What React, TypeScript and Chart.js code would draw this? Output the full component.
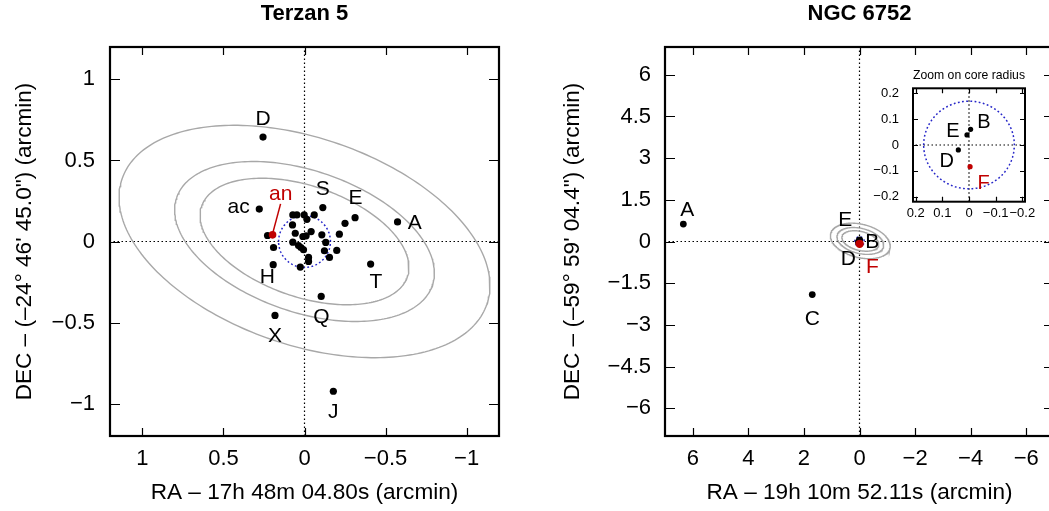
import React, { useEffect, useRef } from "react";
import { Chart, registerables } from "chart.js";

Chart.register(...registerables);

const FONT = "'Liberation Sans', Arial, Helvetica, sans-serif";
const RED = "#c00000";
const BLUE = "#2626c8";
const GREY = "#a8a8a8";

// ---------------- Terzan 5 ----------------
const TER5_TITLE = "Terzan 5";
const TER5_X_TITLE = "RA – 17h 48m 04.80s (arcmin)";
const TER5_Y_TITLE = "DEC – (–24° 46' 45.0\") (arcmin)";
const TER5_LIMIT = 1.2;
const TER5_TICKS = [-1, -0.5, 0, 0.5, 1];
const TER5_NAMES = ["D", "ac", "an", "S", "E", "A", "T", "H", "Q", "X", "J"];
const TER5_RA = [0.256, 0.279, 0.197, -0.113, -0.312, -0.574, -0.408, 0.193, -0.103, 0.182, -0.178];
const TER5_DEC = [0.644, 0.2, 0.041, 0.209, 0.147, 0.121, -0.139, -0.143, -0.339, -0.456, -0.924];
const TER5_HIGHLIGHT = ["an"];
const TER5_OTHER_RA = [0.228, 0.191, 0.072, 0.047, 0.002, -0.015, -0.06, 0.074, 0.057, 0.01, -0.01, -0.041, -0.107, -0.215, -0.25, 0.072, 0.037, 0.022, 0.006, -0.131, -0.123, -0.199, -0.025, -0.025, -0.154, 0.026];
const TER5_OTHER_DEC = [0.037, -0.037, 0.164, 0.164, 0.164, 0.137, 0.164, 0.102, 0.051, 0.031, 0.035, 0.061, 0.041, 0.045, 0.112, -0.004, -0.025, -0.037, -0.051, -0.006, -0.057, -0.055, -0.098, -0.123, -0.098, -0.158];
const TER5_CORE_RADIUS = 0.16;
const TER5_CONTOUR_A = [1.19, 0.834, 0.671];
const TER5_CONTOUR_B = [0.638, 0.436, 0.342];
const TER5_CONTOUR_PA = 19;
const TER5_CONTOUR_CENTER = [0, 0];
// label offsets (pixels, relative to the marker)
const TER5_LABEL_DX = [0, -20.7, 8.2, 0, 0.5, 17.3, 5.3, -6, 0.3, 0, 0];
const TER5_LABEL_DY = [-12.3, 4.4, -35, -12.7, -13.3, 7.4, 24, 18.4, 26.4, 26.4, 27];

// ---------------- NGC 6752 ----------------
const NGC_TITLE = "NGC 6752";
const NGC_X_TITLE = "RA – 19h 10m 52.11s (arcmin)";
const NGC_Y_TITLE = "DEC – (–59° 59' 04.4\") (arcmin)";
const NGC_LIMIT = 7;
const NGC_X_TICKS = [-6, -4, -2, 0, 2, 4, 6];
const NGC_Y_TICKS = [-6, -4.5, -3, -1.5, 0, 1.5, 3, 4.5, 6];
const NGC_NAMES = ["A", "B", "C", "D", "E", "F"];
const NGC_RA = [6.34, -0.006, 1.7, 0.04, 0.0075, -0.004];
const NGC_DEC = [0.626, 0.061, -1.91, -0.019, 0.039, -0.084];
const NGC_HIGHLIGHT = ["F"];
const NGC_CORE_RADIUS = 0.17;
const NGC_CONTOUR_A = [1.1, 0.86, 0.68];
const NGC_CONTOUR_B = [0.6, 0.45, 0.34];
const NGC_CONTOUR_PA = 14;
const NGC_CONTOUR_CENTER = [-0.03, 0.02];
const NGC_LABEL_DX = [4, 12.5, 0, -10, -14, 12.7];
const NGC_LABEL_DY = [-8.3, 7.8, 30.3, 22.8, -14.6, 29.3];

// ---------------- NGC 6752 inset ----------------
const INSET_TITLE = "Zoom on core radius";
const INSET_X_LIMIT = 0.21;
const INSET_Y_LIMIT = 0.22;
const INSET_TICKS = [-0.2, -0.1, 0, 0.1, 0.2];
const INSET_LABEL_DX = [0, 13.3, 0, -11.6, -14, 13.5];
const INSET_LABEL_DY = [0, -1, 0, 16.7, 1.7, 22];

function ellipse(cx: number, cy: number, a: number, b: number, paDeg: number) {
  const p = (paDeg * Math.PI) / 180;
  const pts: { x: number; y: number }[] = [];
  const n = 240;
  for (let i = 0; i <= n; i++) {
    const t = (2 * Math.PI * i) / n;
    pts.push({
      x: cx + a * Math.cos(t) * Math.cos(p) - b * Math.sin(t) * Math.sin(p),
      y: cy + a * Math.cos(t) * Math.sin(p) + b * Math.sin(t) * Math.cos(p),
    });
  }
  return pts;
}

function fmt(v: number) {
  if (Math.abs(v) < 1e-9) return "0";
  return v < 0 ? "\u2212" + String(Math.abs(v)) : String(v);
}

type Panel = {
  title: string;
  titleSize: number;
  titleBold: boolean;
  titlePad: [number, number];
  xTitle?: string;
  yTitle?: string;
  axisFont: number;
  tickFont: number;
  limX: number;
  limY: number;
  xTicks: number[];
  yTicks: number[];
  yAxisWidth: number;
  xAxisHeight: number;
  padRight: number;
  yTickPad: number;
  xTickPad: number;
  yTitlePad: number;
  xTitlePad: number;
  names: string[];
  ra: number[];
  dec: number[];
  highlight: string[];
  otherRa: number[];
  otherDec: number[];
  coreR: number;
  contA: number[];
  contB: number[];
  contPA: number;
  contC: number[];
  dx: number[];
  dy: number[];
  labelFont: number;
  pointR: number;
  hiR: number;
  tickLenX: number;
  tickLenY: number;
  frameW: number;
  leaders?: { name: string; x1: number; y1: number; x2: number; y2: number }[];
};

function decorPlugin(c: Panel, id: string) {
  return {
    id,
    afterDraw(chart: any) {
      const { ctx, chartArea, scales } = chart;
      const { left, right, top, bottom } = chartArea;
      const sx = scales.x;
      const sy = scales.y;
      ctx.save();
      // point labels
      ctx.font = `${c.labelFont}px ${FONT}`;
      ctx.textAlign = "center";
      ctx.textBaseline = "alphabetic";
      c.names.forEach((n, i) => {
        if (Math.abs(c.ra[i]) > c.limX || Math.abs(c.dec[i]) > c.limY) return;
        const px = sx.getPixelForValue(c.ra[i]);
        const py = sy.getPixelForValue(c.dec[i]);
        ctx.fillStyle = c.highlight.includes(n) ? RED : "#000";
        ctx.fillText(n, px + c.dx[i], py + c.dy[i]);
      });
      // leader lines
      (c.leaders || []).forEach((l) => {
        const i = c.names.indexOf(l.name);
        const px = sx.getPixelForValue(c.ra[i]);
        const py = sy.getPixelForValue(c.dec[i]);
        ctx.strokeStyle = RED;
        ctx.lineWidth = 1.5;
        ctx.beginPath();
        ctx.moveTo(px + l.x1, py + l.y1);
        ctx.lineTo(px + l.x2, py + l.y2);
        ctx.stroke();
      });
      // inward mirrored ticks
      ctx.strokeStyle = "#000";
      ctx.lineWidth = 1.2;
      ctx.beginPath();
      sx.ticks.forEach((t: any) => {
        const px = Math.round(sx.getPixelForValue(t.value)) + 0.5;
        ctx.moveTo(px, bottom);
        ctx.lineTo(px, bottom - c.tickLenX);
        ctx.moveTo(px, top);
        ctx.lineTo(px, top + c.tickLenX);
      });
      sy.ticks.forEach((t: any) => {
        const py = Math.round(sy.getPixelForValue(t.value)) + 0.5;
        ctx.moveTo(left, py);
        ctx.lineTo(left + c.tickLenY, py);
        ctx.moveTo(right, py);
        ctx.lineTo(right - c.tickLenY, py);
      });
      ctx.stroke();
      // frame
      ctx.lineWidth = c.frameW;
      ctx.strokeRect(left, top, right - left, bottom - top);
      ctx.restore();
    },
  };
}

function buildConfig(c: Panel, id: string): any {
  const named = c.names.map((n, i) => ({ x: c.ra[i], y: c.dec[i], hi: c.highlight.includes(n) }));
  const hiPts = named.filter((p) => p.hi).map((p) => ({ x: p.x, y: p.y }));
  const blackPts = [
    ...named.filter((p) => !p.hi).map((p) => ({ x: p.x, y: p.y })),
    ...c.otherRa.map((x, i) => ({ x, y: c.otherDec[i] })),
  ];
  const line = { showLine: true, pointRadius: 0, pointHoverRadius: 0, fill: false, tension: 0 };
  const datasets: any[] = [
    { label: "highlight", data: hiPts, showLine: false, pointRadius: c.hiR, pointBackgroundColor: RED, pointBorderWidth: 0 },
    { label: "pulsars", data: blackPts, showLine: false, pointRadius: c.pointR, pointBackgroundColor: "#000", pointBorderWidth: 0 },
    { label: "core", data: ellipse(0, 0, c.coreR, c.coreR, 0), borderColor: BLUE, borderWidth: 1.5, borderDash: [1.8, 2.4], ...line },
    ...c.contA.map((a, i) => ({
      label: "contour" + i,
      data: ellipse(c.contC[0], c.contC[1], a, c.contB[i], c.contPA),
      borderColor: GREY,
      borderWidth: 1.4,
      ...line,
    })),
    { label: "ra0", data: [{ x: 0, y: -c.limY }, { x: 0, y: c.limY }], borderColor: "#000", borderWidth: 1.2, borderDash: [1.5, 2.5], ...line },
    { label: "dec0", data: [{ x: -c.limX, y: 0 }, { x: c.limX, y: 0 }], borderColor: "#000", borderWidth: 1.2, borderDash: [1.5, 2.5], ...line },
  ];
  const tickFont = { family: FONT, size: c.tickFont };
  const axisFont = { family: FONT, size: c.axisFont };
  return {
    type: "scatter",
    data: { datasets },
    options: {
      responsive: false,
      animation: false,
      devicePixelRatio: 1,
      events: [],
      layout: { padding: { left: 0, top: 0, right: c.padRight, bottom: 0 } },
      plugins: {
        legend: { display: false },
        tooltip: { enabled: false },
        title: {
          display: true,
          text: c.title,
          fullSize: false,
          color: "#000",
          font: { family: FONT, size: c.titleSize, weight: c.titleBold ? "bold" : "normal" },
          padding: { top: c.titlePad[0], bottom: c.titlePad[1] },
        },
      },
      scales: {
        x: {
          type: "linear",
          min: -c.limX,
          max: c.limX,
          reverse: true,
          afterBuildTicks: (s: any) => {
            s.ticks = c.xTicks.map((v) => ({ value: v }));
          },
          afterFit: (s: any) => {
            s.height = c.xAxisHeight;
          },
          grid: { display: false, drawTicks: false, tickLength: 0 },
          border: { display: false },
          ticks: { autoSkip: false, maxRotation: 0, minRotation: 0, padding: c.xTickPad, color: "#000", font: tickFont, callback: (v: number) => fmt(v) },
          title: { display: !!c.xTitle, text: c.xTitle || "", color: "#000", font: axisFont, padding: { top: 0, bottom: c.xTitlePad } },
        },
        y: {
          type: "linear",
          min: -c.limY,
          max: c.limY,
          afterBuildTicks: (s: any) => {
            s.ticks = c.yTicks.map((v) => ({ value: v }));
          },
          afterFit: (s: any) => {
            s.width = c.yAxisWidth;
          },
          grid: { display: false, drawTicks: false, tickLength: 0 },
          border: { display: false },
          ticks: { autoSkip: false, padding: c.yTickPad, color: "#000", font: tickFont, callback: (v: number) => fmt(v) },
          title: { display: !!c.yTitle, text: c.yTitle || "", color: "#000", font: axisFont, padding: { top: c.yTitlePad, bottom: 0 } },
        },
      },
    },
    plugins: [decorPlugin(c, id)],
  };
}

const terzan: Panel = {
  title: TER5_TITLE, titleSize: 22, titleBold: true, titlePad: [0.8, 19.8],
  xTitle: TER5_X_TITLE, yTitle: TER5_Y_TITLE, axisFont: 22.6, tickFont: 22,
  limX: TER5_LIMIT, limY: TER5_LIMIT, xTicks: TER5_TICKS, yTicks: TER5_TICKS,
  yAxisWidth: 110, xAxisHeight: 75, padRight: 41,
  yTickPad: 15, xTickPad: 9.8, yTitlePad: 11.5, xTitlePad: 4.6,
  names: TER5_NAMES, ra: TER5_RA, dec: TER5_DEC, highlight: TER5_HIGHLIGHT,
  otherRa: TER5_OTHER_RA, otherDec: TER5_OTHER_DEC, coreR: TER5_CORE_RADIUS,
  contA: TER5_CONTOUR_A, contB: TER5_CONTOUR_B, contPA: TER5_CONTOUR_PA, contC: TER5_CONTOUR_CENTER,
  dx: TER5_LABEL_DX, dy: TER5_LABEL_DY, labelFont: 21, pointR: 3.6, hiR: 3.8,
  tickLenX: 8, tickLenY: 10, frameW: 2.2,
  leaders: [{ name: "an", x1: 8, y1: -31, x2: 0.5, y2: -3 }],
};

const ngc: Panel = {
  title: NGC_TITLE, titleSize: 22, titleBold: true, titlePad: [0.8, 19.8],
  xTitle: NGC_X_TITLE, yTitle: NGC_Y_TITLE, axisFont: 22.6, tickFont: 22,
  limX: NGC_LIMIT, limY: NGC_LIMIT, xTicks: NGC_X_TICKS, yTicks: NGC_Y_TICKS,
  yAxisWidth: 125, xAxisHeight: 75, padRight: 26,
  yTickPad: 14, xTickPad: 9.8, yTitlePad: 19, xTitlePad: 4.6,
  names: NGC_NAMES, ra: NGC_RA, dec: NGC_DEC, highlight: NGC_HIGHLIGHT,
  otherRa: [], otherDec: [], coreR: NGC_CORE_RADIUS,
  contA: NGC_CONTOUR_A, contB: NGC_CONTOUR_B, contPA: NGC_CONTOUR_PA, contC: NGC_CONTOUR_CENTER,
  dx: NGC_LABEL_DX, dy: NGC_LABEL_DY, labelFont: 21, pointR: 3.4, hiR: 4.2,
  tickLenX: 8, tickLenY: 10, frameW: 2.2,
};

const inset: Panel = {
  title: INSET_TITLE, titleSize: 13, titleBold: false, titlePad: [12.2, 5.5],
  axisFont: 13, tickFont: 13,
  limX: INSET_X_LIMIT, limY: INSET_Y_LIMIT, xTicks: INSET_TICKS, yTicks: INSET_TICKS,
  yAxisWidth: 53, xAxisHeight: 25.3, padRight: 15,
  yTickPad: 14, xTickPad: 3.8, yTitlePad: 0, xTitlePad: 0,
  names: NGC_NAMES, ra: NGC_RA, dec: NGC_DEC, highlight: NGC_HIGHLIGHT,
  otherRa: [], otherDec: [], coreR: NGC_CORE_RADIUS,
  contA: [], contB: [], contPA: 0, contC: [0, 0],
  dx: INSET_LABEL_DX, dy: INSET_LABEL_DY, labelFont: 20, pointR: 2.6, hiR: 2.6,
  tickLenX: 5, tickLenY: 5, frameW: 2,
};

function ChartCanvas(props: { panel: Panel; id: string; left: number; top: number; width: number; height: number }) {
  const ref = useRef<HTMLCanvasElement>(null);
  useEffect(() => {
    const chart = new Chart(ref.current as HTMLCanvasElement, buildConfig(props.panel, props.id));
    return () => chart.destroy();
  }, []);
  return (
    <canvas
      ref={ref}
      width={props.width}
      height={props.height}
      style={{ position: "absolute", left: props.left, top: props.top, width: props.width, height: props.height }}
    />
  );
}

export default function App() {
  return (
    <div style={{ position: "fixed", left: 0, top: 0, width: 1049, height: 511, overflow: "hidden", background: "#fff" }}>
      <ChartCanvas panel={terzan} id="decorTer5" left={0} top={0} width={540} height={511} />
      <ChartCanvas panel={ngc} id="decorNgc" left={540} top={0} width={540} height={511} />
      <ChartCanvas panel={inset} id="decorInset" left={860} top={55} width={180} height={172} />
    </div>
  );
}
